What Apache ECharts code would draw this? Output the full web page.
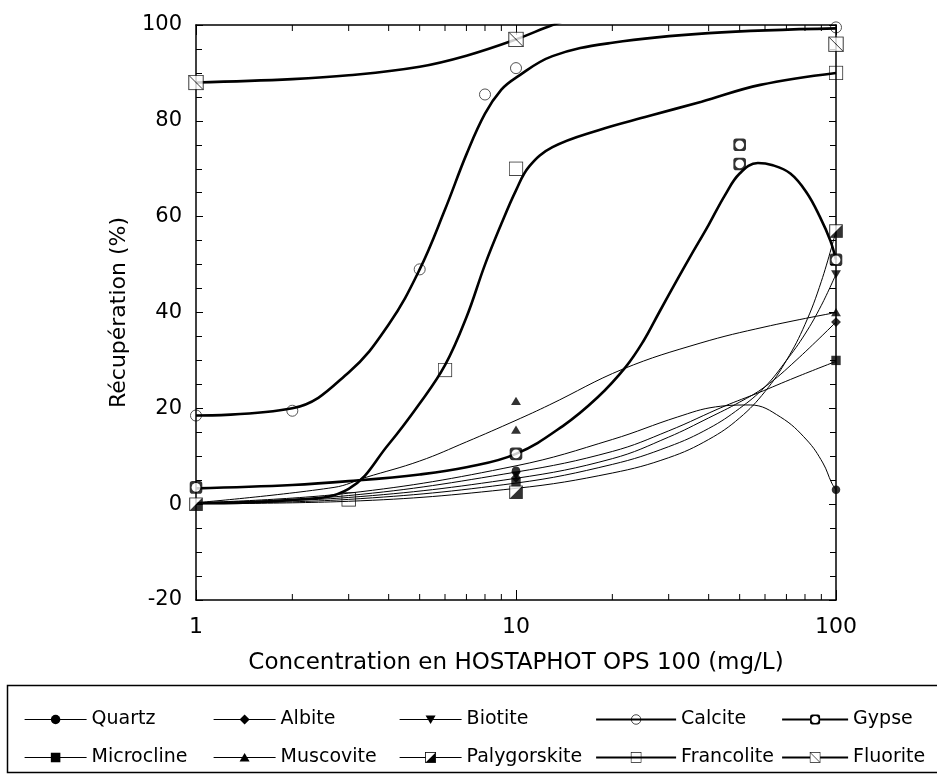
<!DOCTYPE html>
<html>
<head>
<meta charset="utf-8">
<title>Récupération - HOSTAPHOT OPS 100</title>
<script src="https://cdn.jsdelivr.net/npm/echarts@6.0.0/dist/echarts.min.js"></script>
<style>
html, body { margin: 0; padding: 0; background: #fff; }
#chartRecup { width: 937px; height: 778px; }
</style>
</head>
<body>
<div id="chartRecup"></div>
<script>
/************************* data *************************/

var names = ['Quartz', 'Albite', 'Biotite', 'Calcite', 'Gypse',
             'Microcline', 'Muscovite', 'Palygorskite', 'Francolite', 'Fluorite'];
var thickNames = ['Calcite', 'Gypse', 'Francolite', 'Fluorite'];

/* measured points [concentration mg/L, recuperation %] */
var ptQuartz       = [[10, 7], [100, 3]];
var ptAlbite       = [[10, 5.5], [100, 38]];
var ptBiotite      = [[10, 6], [100, 48]];
var ptCalcite      = [[1, 18.5], [2, 19.5], [5, 49], [8, 85.5], [10, 91], [100, 99.5]];
var ptGypse        = [[1, 3.5], [10, 10.5], [50, 75], [50, 71], [100, 51]];
var ptMicrocline   = [[10, 4.5], [100, 30]];
var ptMuscovite    = [[10, 21.5], [10, 15.5], [100, 40]];
var ptPalygorskite = [[1, 0], [10, 2.5], [100, 57]];
var ptFrancolite   = [[3, 1], [6, 28], [10, 70], [100, 90]];
var ptFluorite     = [[1, 88], [10, 97], [100, 96]];

/* fitted curves */
var fitQuartz       = [[1, 0.3], [3, 2.3], [10, 8], [20, 13.5], [32, 18.2], [42, 20.3], [54, 20.7],
                       [67, 18.2], [81, 13.4], [91, 8.6], [97, 4.4], [100, 3]];
var fitAlbite       = [[1, 0.3], [3, 1.4], [10, 5.4], [20, 9.5], [30, 14], [40, 18], [50, 21.3],
                       [60, 24.5], [75, 30], [100, 38]];
var fitBiotite      = [[1, 0.2], [3, 1], [10, 4.4], [20, 8.3], [30, 12], [40, 15.8], [50, 20],
                       [60, 24.5], [70, 30], [80, 35.5], [90, 41.5], [100, 48]];
var fitCalcite      = [[1, 18.5], [2, 20], [3, 27.5], [4, 37.5], [5, 49], [6, 61.5], [7, 73],
                       [8, 81.5], [9, 86.5], [10, 89], [13, 93.5], [20, 96.3], [40, 98.3], [100, 99.3]];
var fitGypse        = [[1, 3.3], [2, 4], [3, 4.8], [5, 6.2], [7, 7.7], [10, 10.5], [14, 16.3],
                       [18, 22.3], [22, 28.6], [25, 34], [28, 40], [32, 47], [35, 51.6], [40, 58.3],
                       [45, 64.5], [50, 69], [57, 71.2], [63, 70.8], [72, 69], [81, 65], [89, 60],
                       [96, 55], [100, 51]];
var fitMicrocline   = [[1, 0.3], [3, 1.8], [10, 6.7], [20, 11], [30, 15.3], [45, 20.5], [57, 23.2],
                       [75, 26.5], [100, 29.8]];
var fitMuscovite    = [[1, 0.3], [2.7, 3.5], [3.4, 5.6], [5, 9], [7, 13], [10, 17.5], [12.7, 20.7],
                       [21.6, 28.2], [37.6, 33.6], [60, 37], [100, 40]];
var fitPalygorskite = [[1, 0.1], [3, 0.6], [10, 3.3], [20, 6.5], [30, 9.7], [40, 13.5], [50, 18],
                       [60, 23.5], [70, 30], [80, 37.5], [90, 46.5], [100, 57]];
var fitFrancolite   = [[1, 0.2], [2, 0.9], [3, 3.2], [4, 12.5], [5, 21], [6, 29], [7, 39], [8, 50],
                       [9, 58.5], [10, 65.5], [11, 70.5], [13, 74.5], [18, 78], [26, 81], [38, 84],
                       [58, 87.5], [100, 90]];
var fitFluorite     = [[1, 88], [2, 88.7], [3, 89.5], [5, 91.3], [7, 93.6], [10, 97], [13, 100],
                       [16, 102], [20, 104]];

var xMinorTicks = [2, 3, 4, 5, 6, 7, 8, 9, 20, 30, 40, 50, 60, 70, 80, 90];
var yMin = -20, yMax = 100, yStep = 20;

var points = {
    Quartz: ptQuartz, Albite: ptAlbite, Biotite: ptBiotite, Calcite: ptCalcite, Gypse: ptGypse,
    Microcline: ptMicrocline, Muscovite: ptMuscovite, Palygorskite: ptPalygorskite,
    Francolite: ptFrancolite, Fluorite: ptFluorite
};
var fits = {
    Quartz: fitQuartz, Albite: fitAlbite, Biotite: fitBiotite, Calcite: fitCalcite, Gypse: fitGypse,
    Microcline: fitMicrocline, Muscovite: fitMuscovite, Palygorskite: fitPalygorskite,
    Francolite: fitFrancolite, Fluorite: fitFluorite
};

/************************* markers *******************************/

function svgSymbol(body) {
    var svg = '<svg xmlns="http://www.w3.org/2000/svg" width="40" height="40" viewBox="0 0 20 20">' + body + '</svg>';
    return 'image://data:image/svg+xml;charset=utf-8,' + encodeURIComponent(svg);
}

var markers = {
    Quartz: svgSymbol('<circle cx="10" cy="10" r="8.5" fill="#000"/>'),
    Albite: svgSymbol('<polygon points="10,1 19,10 10,19 1,10" fill="#000"/>'),
    Biotite: svgSymbol('<polygon points="1,3 19,3 10,18" fill="#000"/>'),
    Calcite: svgSymbol('<circle cx="10" cy="10" r="8.5" fill="none" stroke="#000" stroke-width="1.3"/>'),
    Gypse: svgSymbol('<rect x="1" y="1" width="18" height="18" rx="4" fill="#000"/><circle cx="10" cy="10" r="6.3" fill="#fff"/>'),
    Microcline: svgSymbol('<rect x="1.5" y="1.5" width="17" height="17" fill="#000"/>'),
    Muscovite: svgSymbol('<polygon points="10,2 19,17 1,17" fill="#000"/>'),
    Palygorskite: svgSymbol('<rect x="1" y="1" width="18" height="18" fill="#fff" stroke="#000" stroke-width="1.4"/><polygon points="19,1 19,19 1,19" fill="#000"/>'),
    Francolite: svgSymbol('<rect x="1" y="1" width="18" height="18" fill="none" stroke="#000" stroke-width="1.2"/>'),
    Fluorite: svgSymbol('<rect x="1" y="1" width="18" height="18" fill="#fff" stroke="#000" stroke-width="1.2"/><line x1="1" y1="1" x2="19" y2="19" stroke="#000" stroke-width="1.2"/>')
};
var markerSize = {
    Quartz: 10, Albite: 11, Biotite: 11, Calcite: 13, Gypse: 14,
    Microcline: 11, Muscovite: 11, Palygorskite: 14, Francolite: 15, Fluorite: 16
};

function lineWidthOf(n) {
    return thickNames.indexOf(n) >= 0 ? 2.6 : 1;
}

/************************* series *******************************/

var series = [];
names.forEach(function (n) {
    series.push({
        name: n,
        type: 'line',
        data: fits[n],
        smooth: 0.4,
        showSymbol: false,
        symbol: markers[n],
        symbolSize: markerSize[n],
        silent: true,
        clip: true,
        lineStyle: { color: '#000', width: lineWidthOf(n) },
        itemStyle: { color: '#000' },
        z: 2
    });
});
names.forEach(function (n) {
    series.push({
        name: n,
        type: 'scatter',
        data: points[n],
        symbol: markers[n],
        symbolSize: markerSize[n],
        itemStyle: { color: '#000' },
        z: 3
    });
});

/* minor ticks of the log axis, top and bottom of the frame */
series.push({
    name: 'minorTicks',
    type: 'custom',
    silent: true,
    clip: false,
    data: xMinorTicks.map(function (v) { return [v, 0]; }),
    encode: { x: 0, y: 1 },
    renderItem: function (params, api) {
        var v = api.value(0);
        var b = api.coord([v, yMin]);
        var t = api.coord([v, yMax]);
        return {
            type: 'group',
            children: [
                { type: 'line', shape: { x1: b[0], y1: b[1], x2: b[0], y2: b[1] - 6 }, style: { stroke: '#000', lineWidth: 1 } },
                { type: 'line', shape: { x1: t[0], y1: t[1], x2: t[0], y2: t[1] + 6 }, style: { stroke: '#000', lineWidth: 1 } }
            ]
        };
    }
});

/************************* legend *******************************/

var legendCols = [['Quartz', 'Microcline'], ['Albite', 'Muscovite'], ['Biotite', 'Palygorskite'],
                  ['Calcite', 'Francolite'], ['Gypse', 'Fluorite']];
var legendLeft = [24, 213, 399, 595, 781];
var legendLine = [62, 62, 62, 80, 66];

var legends = legendCols.map(function (col, i) {
    return {
        data: col.map(function (n) {
            return { name: n, lineStyle: { width: thickNames.indexOf(n) >= 0 ? 2.2 : 1.2 } };
        }),
        orient: 'vertical',
        left: legendLeft[i],
        top: 710,
        padding: 0,
        itemWidth: legendLine[i],
        itemHeight: 14,
        itemGap: 19,
        selectedMode: false,
        textStyle: { color: '#000', fontSize: 19, lineHeight: 14, fontFamily: 'DejaVu Sans' }
    };
});

var fontFam = 'DejaVu Sans';
var axisLineStyle = { onZero: false, lineStyle: { color: '#000', width: 1.5 } };

var option = {
    backgroundColor: '#fff',
    animation: false,
    grid: { left: 196, right: 101, top: 25, bottom: 178 },
    legend: legends,
    graphic: [{
        type: 'rect',
        left: 5,
        top: 683,
        shape: { width: 960, height: 87 },
        style: { fill: 'none', stroke: '#000', lineWidth: 1.5 },
        silent: true
    }],
    xAxis: [{
        type: 'log',
        logBase: 10,
        min: 1,
        max: 100,
        position: 'bottom',
        name: 'Concentration en HOSTAPHOT OPS 100 (mg/L)',
        nameLocation: 'middle',
        nameGap: 52,
        nameTextStyle: { color: '#000', fontSize: 23, fontFamily: fontFam },
        axisLine: axisLineStyle,
        axisTick: { inside: true, length: 10, lineStyle: { color: '#000' } },
        axisLabel: { color: '#000', fontSize: 22, fontFamily: fontFam, margin: 16 },
        splitLine: { show: false }
    }, {
        type: 'log',
        logBase: 10,
        min: 1,
        max: 100,
        position: 'top',
        axisLine: axisLineStyle,
        axisTick: { inside: true, length: 10, lineStyle: { color: '#000' } },
        axisLabel: { show: false },
        splitLine: { show: false }
    }],
    yAxis: [{
        type: 'value',
        min: yMin,
        max: yMax,
        interval: yStep,
        position: 'left',
        name: 'Récupération (%)',
        nameLocation: 'middle',
        nameGap: 66,
        nameTextStyle: { color: '#000', fontSize: 22, fontFamily: fontFam },
        axisLine: axisLineStyle,
        axisTick: { inside: true, length: 7, lineStyle: { color: '#000' } },
        minorTick: { show: true, splitNumber: 4, length: 6, lineStyle: { color: '#000' } },
        axisLabel: { color: '#000', fontSize: 21, fontFamily: fontFam, margin: 14 },
        splitLine: { show: false }
    }, {
        type: 'value',
        min: yMin,
        max: yMax,
        interval: yStep,
        position: 'right',
        axisLine: axisLineStyle,
        axisTick: { inside: true, length: 7, lineStyle: { color: '#000' } },
        minorTick: { show: true, splitNumber: 4, length: 6, lineStyle: { color: '#000' } },
        axisLabel: { show: false },
        splitLine: { show: false }
    }],
    series: series
};

var chartRecup = echarts.init(document.getElementById('chartRecup'));
chartRecup.setOption(option);
</script>
</body>
</html>
